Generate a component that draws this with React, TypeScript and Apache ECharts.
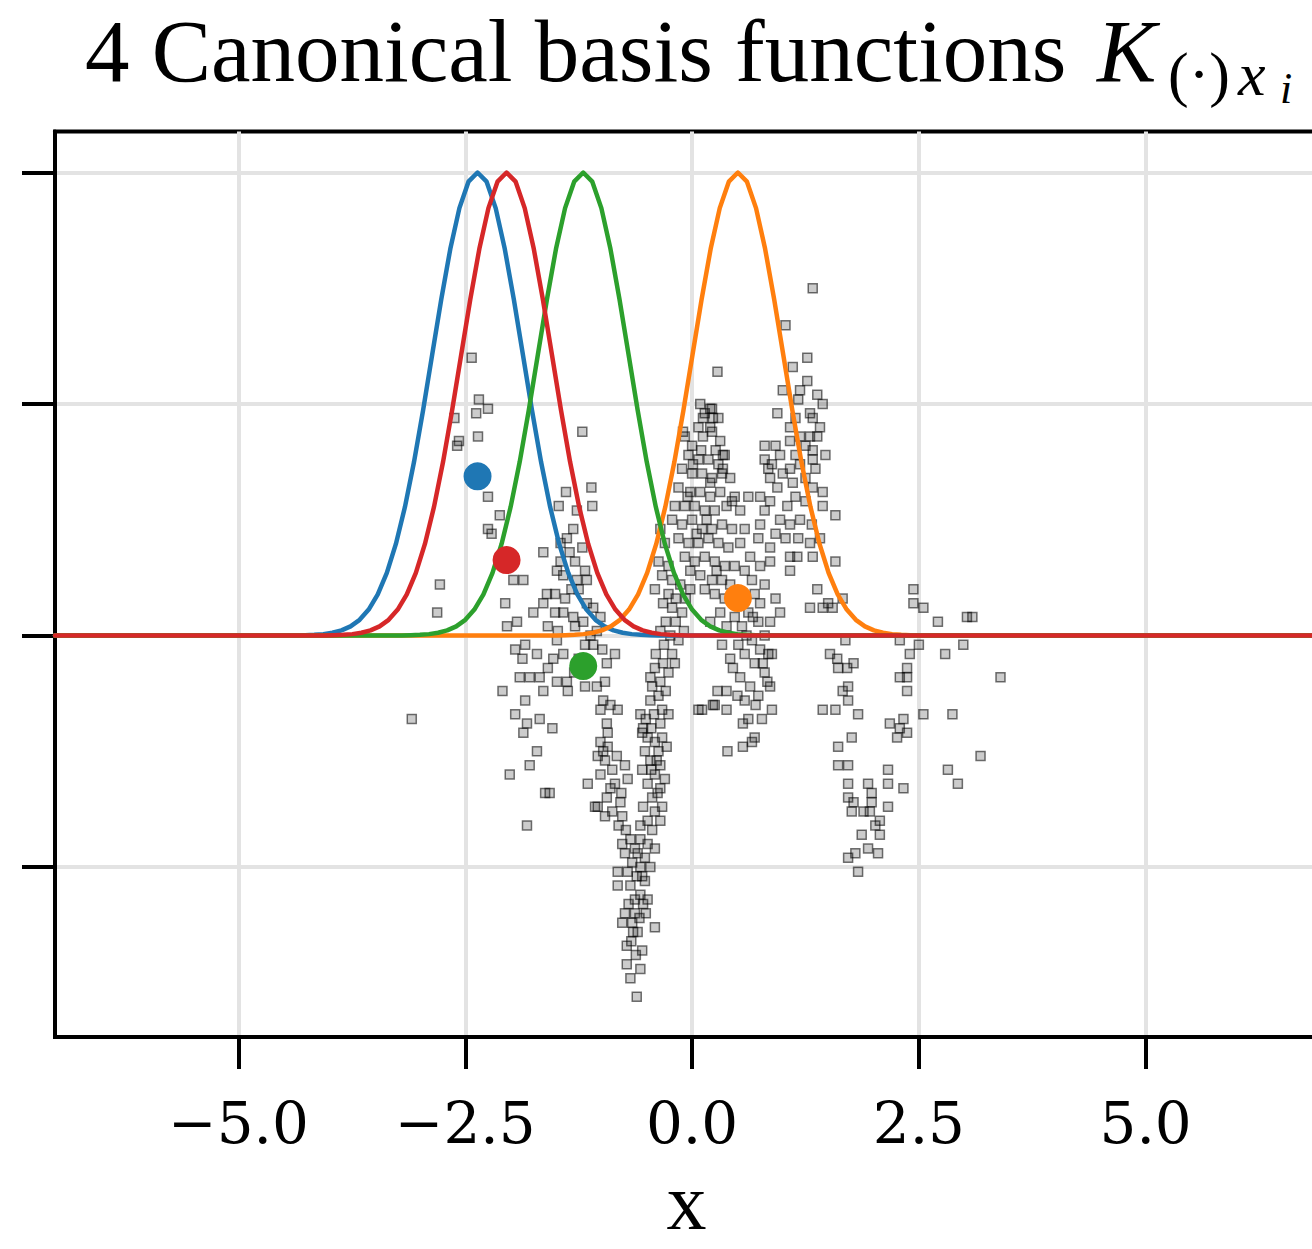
import React, { useEffect, useRef } from "react";
import * as echarts from "echarts";

// ---- axis ticks ----
const xTicks = [-5, -2.5, 0, 2.5, 5];
const yTicks = [-0.5, 0, 0.5, 1.0];
const xRange = [-7.023, 6.9];
const yRange = [-0.867, 1.0886];

// ---- kernel profile K(x - x_i) read at offsets from each centre ----
const kernelOffsets = [
  -2.0, -1.9, -1.8, -1.7, -1.6, -1.5, -1.4, -1.3, -1.2, -1.1, -1.0, -0.9, -0.8, -0.7, -0.6, -0.5, -0.4, -0.3, -0.2, -0.1,
  0.0, 0.1, 0.2, 0.3, 0.4, 0.5, 0.6, 0.7, 0.8, 0.9, 1.0, 1.1, 1.2, 1.3, 1.4, 1.5, 1.6, 1.7, 1.8, 1.9, 2.0,
];
const kernelProfile = [
  0.0003, 0.0007, 0.0015, 0.0031, 0.006, 0.0111, 0.0198, 0.034, 0.0561, 0.0889, 0.1353, 0.1979, 0.278, 0.3753, 0.4868,
  0.6065, 0.7261, 0.8353, 0.9231, 0.9802, 1.0, 0.9802, 0.9231, 0.8353, 0.7261, 0.6065, 0.4868, 0.3753, 0.278, 0.1979,
  0.1353, 0.0889, 0.0561, 0.034, 0.0198, 0.0111, 0.006, 0.0031, 0.0015, 0.0007, 0.0003,
];

// ---- the 4 selected points x_i (blue, orange, green, red) ----
const basisNames = ["blue", "orange", "green", "red"];
const basisColors = ["#1f77b4", "#ff7f0e", "#2ca02c", "#d62728"];
const basisX = [-2.365, 0.505, -1.2, -2.045];
const basisY = [0.344, 0.081, -0.066, 0.163];

// ---- data cloud ----
const leftSparse = [
  [-2.43, 0.6], [-2.35, 0.51], [-2.25, 0.49], [-2.38, 0.48], [-2.62, 0.47], [-2.36, 0.43], [-2.59, 0.41], [-2.57, 0.42],
  [-2.25, 0.3], [-2.12, 0.26], [-2.25, 0.23], [-2.21, 0.22], [-2.78, 0.11], [-2.81, 0.05], [-3.09, -0.18], [-1.21, 0.44],
];
const midLeft = [
  [-1.11, 0.32], [-1.39, 0.31], [-1.47, 0.28], [-1.1, 0.28], [-1.27, 0.27], [-1.64, 0.18], [-1.97, 0.12], [-1.86, 0.12],
  [-2.06, 0.07], [-1.93, 0.03], [-2.04, 0.02], [-1.75, 0.05], [-1.64, 0.07], [-1.6, 0.09], [-1.51, 0.09], [-1.49, 0.14],
  [-1.42, 0.13], [-1.38, 0.21], [-1.31, 0.23], [-1.21, 0.19], [-1.29, 0.16], [-1.18, 0.14], [-1.27, 0.12], [-1.16, 0.12],
  [-1.51, 0.05], [-1.42, 0.05], [-1.31, 0.04], [-1.29, 0.02], [-1.16, 0.07], [-1.09, 0.06], [-1.01, 0.04], [-1.59, 0.02],
  [-1.48, 0.01], [-1.95, -0.03], [-1.84, -0.02], [-1.71, -0.04], [-1.87, -0.05], [-1.49, -0.01], [-1.42, -0.04],
  [-1.53, -0.05], [-1.59, -0.07], [-1.18, -0.02], [-1.09, -0.02], [-0.85, -0.04], [-0.94, -0.06], [-1.9, -0.09],
  [-1.79, -0.09], [-1.68, -0.09], [-1.49, -0.1], [-1.38, -0.1], [-2.09, -0.12], [-1.64, -0.12], [-1.37, -0.12],
  [-1.18, -0.11], [-1.05, -0.11], [-0.96, -0.1], [-1.84, -0.14], [-1.95, -0.17], [-1.68, -0.18], [-1.82, -0.19],
  [-1.86, -0.21], [-1.54, -0.2], [-0.98, -0.14], [-0.9, -0.15], [-1.01, -0.16], [-0.82, -0.16], [-0.94, -0.19],
  [-0.93, -0.21], [-1.01, -0.23], [-1.71, -0.25], [-0.98, -0.25], [-1.04, -0.26], [-2.01, -0.3], [-1.79, -0.28],
  [-1.62, -0.34], [-1.57, -0.34], [-1.82, -0.41], [-1.15, -0.32], [-1.04, -0.37], [-1.45, 0.2], [-1.35, 0.18],
  [-1.25, 0.1], [-1.4, 0.08], [-1.2, 0.03], [-1.33, 0.1], [-1.45, 0.16], [-1.12, 0.0], [-1.25, -0.05], [-1.3, -0.08],
  [-1.05, 0.01], [-0.99, -0.03],
];
const vArm = [
  [-0.96, -0.27], [-0.88, -0.29], [-1.01, -0.3], [-0.85, -0.32], [-0.94, -0.35], [-0.79, -0.36], [-0.88, -0.38],
  [-0.77, -0.39], [-0.81, -0.41], [-0.73, -0.42], [-0.96, -0.39], [-1.07, -0.37], [-0.71, -0.31], [-0.74, -0.28],
  [-0.93, -0.24], [-0.9, -0.33], [-0.83, -0.26], [-0.78, -0.34],
  [-0.49, -0.22], [-0.41, -0.23], [-0.33, -0.22], [-0.52, -0.25], [-0.37, -0.25], [-0.28, -0.24], [-0.46, -0.27],
  [-0.35, -0.28], [-0.55, -0.29], [-0.41, -0.3], [-0.3, -0.31], [-0.49, -0.32], [-0.35, -0.33], [-0.44, -0.35],
  [-0.54, -0.37], [-0.33, -0.37], [-0.41, -0.38], [-0.49, -0.4], [-0.35, -0.4], [-0.57, -0.41], [-0.44, -0.42],
  [-0.38, -0.34], [-0.45, -0.29], [-0.39, -0.27],
  [-0.68, -0.44], [-0.57, -0.44], [-0.49, -0.45], [-0.63, -0.46], [-0.74, -0.47], [-0.52, -0.48], [-0.66, -0.49],
  [-0.57, -0.5], [-0.46, -0.5], [-0.71, -0.51], [-0.61, -0.52], [-0.52, -0.53], [-0.68, -0.54], [-0.57, -0.56],
  [-0.49, -0.57], [-0.63, -0.57], [-0.77, -0.45], [-0.41, -0.46], [-0.82, -0.51], [-0.82, -0.54], [-0.6, -0.47],
  [-0.55, -0.52],
  [-0.74, -0.6], [-0.77, -0.62], [-0.72, -0.67], [-0.72, -0.71], [-0.68, -0.74], [-0.61, -0.78], [-0.57, -0.72],
  [-0.55, -0.68], [-0.41, -0.63], [-0.51, -0.6], [-0.65, -0.64], [-0.6, -0.64], [-0.63, -0.6], [-0.7, -0.58],
  [-0.54, -0.58], [-0.67, -0.66], [-0.62, -0.69], [-0.58, -0.61], [-0.66, -0.62],
  [-0.22, 0.12], [-0.13, 0.11], [-0.26, 0.09], [-0.18, 0.08], [-0.32, 0.07], [-0.22, 0.06], [-0.11, 0.05], [-0.29, 0.03],
  [-0.18, 0.03], [-0.35, 0.01], [-0.24, 0.0], [-0.15, -0.01], [-0.31, -0.02], [-0.4, -0.04], [-0.22, -0.04],
  [-0.32, -0.06], [-0.41, -0.07], [-0.26, -0.08], [-0.35, -0.1], [-0.44, -0.11], [-0.29, -0.12], [-0.37, -0.13],
  [-0.46, -0.14], [-0.33, -0.16], [-0.42, -0.17], [-0.51, -0.18], [-0.35, -0.19], [-0.45, -0.2], [-0.54, -0.2],
  [-0.26, -0.17], [-0.57, -0.17], [-0.19, -0.06], [-0.09, 0.01], [-0.07, 0.08], [-0.02, 0.1], [-0.46, -0.09],
  [-0.55, -0.21], [-0.35, 0.23], [-0.3, 0.2], [-0.37, 0.16], [-0.26, 0.15], [-0.33, 0.13], [-0.41, 0.1],
];
const centralCluster = [
  [0.09, 0.5], [0.22, 0.49], [0.14, 0.48], [0.29, 0.47], [0.07, 0.45], [0.2, 0.45], [0.12, 0.43], [0.22, 0.44],
  [0.31, 0.42], [0.0, 0.41], [-0.1, 0.44], [-0.08, 0.43], [0.01, 0.37], [-0.04, 0.39], [0.07, 0.38], [0.18, 0.38],
  [0.29, 0.37], [0.36, 0.39], [-0.11, 0.36], [0.0, 0.35], [0.11, 0.35], [0.22, 0.34], [0.33, 0.35], [0.42, 0.34],
  [-0.15, 0.32], [-0.02, 0.31], [0.09, 0.31], [0.2, 0.3], [0.31, 0.31], [0.47, 0.3], [-0.19, 0.28], [-0.08, 0.28],
  [0.03, 0.28], [0.14, 0.27], [0.25, 0.27], [0.38, 0.28], [0.53, 0.27], [-0.22, 0.25], [-0.11, 0.24], [0.0, 0.25],
  [0.11, 0.23], [0.22, 0.23], [0.33, 0.24], [0.44, 0.23], [-0.15, 0.21], [-0.04, 0.2], [0.07, 0.2], [0.18, 0.21],
  [0.29, 0.2], [0.4, 0.19], [0.53, 0.2], [-0.08, 0.17], [0.03, 0.16], [0.14, 0.17], [0.25, 0.16], [0.36, 0.15],
  [-0.02, 0.14], [0.09, 0.13], [0.22, 0.12], [0.33, 0.12], [0.58, 0.14], [0.66, 0.12], [0.14, 0.1], [0.25, 0.09],
  [0.36, 0.08], [0.69, 0.09], [0.75, 0.07], [0.62, 0.05], [0.47, 0.04], [0.31, 0.05], [0.2, 0.03], [0.38, 0.02],
  [0.55, 0.02], [0.73, 0.03], [0.86, 0.03], [0.8, 0.0], [0.66, -0.01], [0.51, -0.02], [0.33, -0.02], [0.58, -0.04],
  [0.75, -0.03], [0.88, -0.04], [0.42, -0.05], [0.69, -0.06], [0.8, -0.08], [0.53, -0.09], [0.64, -0.11], [0.86, -0.11],
  [0.38, -0.12], [0.73, -0.13], [0.58, -0.14], [0.25, -0.15], [0.38, -0.16], [0.88, -0.16], [0.77, -0.18],
  [0.56, -0.19], [0.39, -0.25], [0.56, -0.24], [0.66, -0.23], [0.69, -0.22], [0.11, -0.16], [0.28, -0.12],
  [0.83, -0.1], [0.84, -0.04], [0.97, 0.05], [0.92, 0.08], [0.42, 0.11], [0.8, 0.11], [0.47, 0.15], [0.86, 0.16],
  [0.07, -0.16], [0.23, -0.15], [0.34, 0.39], [0.34, 0.36], [0.2, 0.33], [0.44, 0.29], [0.62, 0.3], [0.28, 0.57],
  [0.23, 0.47], [0.2, 0.49], [0.12, 0.47], [0.64, 0.17], [0.75, 0.15], [0.58, 0.23], [0.05, 0.22], [0.16, 0.25],
  [0.27, 0.14], [0.48, 0.07], [0.6, 0.0], [0.45, -0.07], [0.7, -0.15], [0.62, -0.18], [0.5, -0.13], [0.78, -0.06],
  [0.67, 0.04], [-0.05, 0.3], [0.1, 0.4], [0.26, 0.4],
];
const rightLobe = [
  [1.33, 0.75], [1.03, 0.67], [1.27, 0.6], [1.11, 0.58], [1.27, 0.55], [1.0, 0.53], [1.19, 0.53], [1.17, 0.51],
  [1.38, 0.52], [1.44, 0.5], [0.94, 0.48], [1.33, 0.47], [1.41, 0.45], [1.08, 0.45], [1.19, 0.43], [1.3, 0.43],
  [1.38, 0.43], [0.8, 0.41], [0.92, 0.41], [1.33, 0.4], [1.33, 0.38], [1.08, 0.36], [1.0, 0.35], [0.86, 0.34],
  [0.94, 0.32], [1.11, 0.33], [1.44, 0.31], [1.33, 0.32], [0.86, 0.29], [1.05, 0.28], [1.44, 0.28], [1.58, 0.26],
  [0.8, 0.38], [0.88, 0.37], [0.97, 0.39], [0.84, 0.36], [1.14, 0.39], [1.19, 0.37], [1.25, 0.34], [1.14, 0.3],
  [1.25, 0.29], [1.36, 0.36], [0.97, 0.25], [1.08, 0.24], [1.19, 0.25], [1.32, 0.24], [0.92, 0.22], [1.03, 0.21],
  [1.17, 0.21], [1.3, 0.2], [0.86, 0.19], [1.08, 0.17], [0.75, 0.24], [0.8, 0.27], [0.75, 0.3], [0.73, 0.21],
  [1.41, 0.21], [1.47, 0.39], [1.3, 0.48], [1.14, 0.47], [1.25, 0.41], [1.08, 0.42], [1.16, 0.17], [1.33, 0.17],
  [1.58, 0.16], [1.38, 0.1], [1.3, 0.06], [1.44, 0.06], [1.5, 0.07], [1.55, 0.06], [1.66, 0.08], [1.08, 0.14],
];
const rightSparse = [
  [2.44, 0.1], [2.44, 0.07], [2.55, 0.06], [2.71, 0.03], [3.03, 0.04], [3.09, 0.04], [2.29, -0.01], [2.5, -0.02],
  [2.4, -0.04], [2.79, -0.04], [2.99, -0.02], [3.4, -0.09], [1.52, -0.04], [1.6, -0.05], [1.61, -0.07], [1.71, -0.07],
  [1.78, -0.06], [1.69, -0.01], [2.37, -0.07], [2.29, -0.09], [2.37, -0.09], [2.37, -0.12], [1.72, -0.11],
  [1.66, -0.12], [1.72, -0.14], [1.44, -0.16], [1.58, -0.16], [1.83, -0.17], [2.18, -0.19], [2.33, -0.18],
  [2.29, -0.2], [2.37, -0.21], [2.26, -0.22], [2.55, -0.17], [2.87, -0.17], [1.76, -0.22], [1.61, -0.24],
  [3.18, -0.26], [1.61, -0.28], [1.72, -0.28], [2.16, -0.29], [2.16, -0.32], [2.33, -0.33], [1.94, -0.32],
  [1.72, -0.32], [1.72, -0.35], [1.78, -0.36], [1.98, -0.34], [1.98, -0.36], [2.16, -0.37], [1.76, -0.38],
  [1.89, -0.38], [1.96, -0.38], [2.07, -0.4], [2.02, -0.41], [2.07, -0.43], [1.87, -0.43], [1.94, -0.46],
  [2.05, -0.47], [1.8, -0.47], [1.72, -0.48], [1.83, -0.51], [2.82, -0.29], [2.93, -0.32],
];

const SERIF = '"Liberation Serif", "Times New Roman", serif';
const TICK_FONT = '"DejaVu Serif", serif';

function fmtTick(v: number): string {
  const s = Math.abs(v).toFixed(1);
  return v < 0 ? "\u2212" + s : s;
}

export default function App() {
  const ref = useRef<HTMLDivElement | null>(null);

  useEffect(() => {
    if (!ref.current) return;
    const chart = echarts.init(ref.current, null, { renderer: "svg" });

    const cloud = [...leftSparse, ...midLeft, ...vArm, ...centralCluster, ...rightLobe, ...rightSparse];

    const kernelSeries = basisNames.map((name, i) => {
      const pts: number[][] = [[xRange[0], 0]];
      kernelOffsets.forEach((d, k) => pts.push([basisX[i] + d, kernelProfile[k]]));
      pts.push([xRange[1], 0]);
      return {
        name,
        type: "line",
        data: pts,
        showSymbol: false,
        symbol: "none",
        smooth: false,
        lineStyle: { color: basisColors[i], width: 4.5, join: "round", cap: "round" },
        emphasis: { disabled: true },
        z: 3,
      };
    });

    chart.setOption({
      animation: false,
      backgroundColor: "#fff",
      grid: {
        left: 55,
        top: 131.5,
        width: 1263,
        height: 905.5,
        outerBoundsMode: "none",
        containLabel: false,
        show: true,
        borderColor: "#000",
        borderWidth: 4,
        backgroundColor: "transparent",
      },
      xAxis: {
        type: "value",
        min: xRange[0],
        max: xRange[1],
        name: "x",
        nameLocation: "middle",
        nameGap: 143,
        nameTextStyle: { fontFamily: SERIF, fontSize: 80, lineHeight: 44, color: "#000" },
        axisLine: { show: true, onZero: false, lineStyle: { color: "#000", width: 4 } },
        axisTick: { show: true, inside: false, length: 32, lineStyle: { color: "#000", width: 4 }, customValues: xTicks },
        axisLabel: {
          customValues: xTicks,
          formatter: (v: number) => fmtTick(v),
          fontFamily: TICK_FONT,
          fontSize: 58,
          color: "#000",
          margin: 57,
        },
        splitLine: { show: true, lineStyle: { color: "#e3e3e3", width: 4 } },
      },
      yAxis: {
        type: "value",
        min: yRange[0],
        max: yRange[1],
        axisLine: { show: true, onZero: false, lineStyle: { color: "#000", width: 4 } },
        axisTick: { show: true, inside: false, length: 33, lineStyle: { color: "#000", width: 4 }, customValues: yTicks },
        axisLabel: { show: false, customValues: yTicks },
        splitLine: { show: true, lineStyle: { color: "#e3e3e3", width: 4 } },
      },
      graphic: [
        {
          type: "text",
          x: 85,
          y: 51,
          style: { text: "4 Canonical basis functions", font: `89px ${SERIF}`, fill: "#000", align: "left", verticalAlign: "middle" },
        },
        {
          type: "text",
          x: 1097,
          y: 51,
          style: { text: "K", font: `italic 89px ${SERIF}`, fill: "#000", align: "left", verticalAlign: "middle" },
        },
        {
          type: "text",
          x: 1168,
          y: 74,
          style: { text: "(\u00b7)", font: `62px ${SERIF}`, fill: "#000", align: "left", verticalAlign: "middle" },
        },
        {
          type: "text",
          x: 1238,
          y: 74,
          style: { text: "x", font: `italic 62px ${SERIF}`, fill: "#000", align: "left", verticalAlign: "middle" },
        },
        {
          type: "text",
          x: 1280,
          y: 88,
          style: { text: "i", font: `italic 44px ${SERIF}`, fill: "#000", align: "left", verticalAlign: "middle" },
        },
      ],
      series: [
        {
          name: "data",
          type: "scatter",
          data: cloud,
          symbol: "rect",
          symbolSize: 9,
          itemStyle: { color: "rgba(0,0,0,0.2)", borderColor: "rgba(0,0,0,0.55)", borderWidth: 1.5, opacity: 1 },
          emphasis: { disabled: true },
          z: 1,
        },
        ...kernelSeries,
        {
          name: "basis points",
          type: "scatter",
          data: basisX.map((x, i) => ({ value: [x, basisY[i]], itemStyle: { color: basisColors[i], opacity: 1 } })),
          symbol: "circle",
          symbolSize: 28,
          emphasis: { disabled: true },
          z: 5,
        },
      ],
    });

    return () => chart.dispose();
  }, []);

  return (
    <div
      ref={ref}
      style={{ position: "fixed", left: 0, top: 0, width: 1312, height: 1249, background: "#fff" }}
    />
  );
}
